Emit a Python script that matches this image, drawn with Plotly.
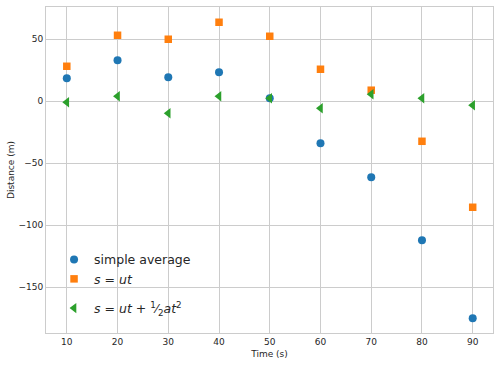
import plotly.graph_objects as go

time_s = [10, 20, 30, 40, 50, 60, 70, 80, 90]
simple_average = [18.5, 33.0, 19.4, 23.4, 2.4, -33.9, -61.3, -112.1, -175.0]
s_ut = [28.2, 53.2, 50.0, 63.7, 52.4, 25.8, 8.9, -32.3, -85.5]
s_ut_half_at2 = [-0.8, 4.0, -9.7, 4.0, 2.4, -5.6, 5.6, 2.4, -3.2]

x_ticks = [10, 20, 30, 40, 50, 60, 70, 80, 90]
y_ticks = [-150, -100, -50, 0, 50]

fig = go.Figure()
fig.add_trace(go.Scatter(x=time_s, y=simple_average, mode="markers", name="simple average",
                         legendgroup="a",
                         marker=dict(symbol="circle", size=8, color="#1f77b4")))
fig.add_trace(go.Scatter(x=time_s, y=s_ut, mode="markers", name="<i>s</i> = <i>ut</i>",
                         legendgroup="a",
                         marker=dict(symbol="square", size=7.5, color="#ff7f0e")))
fig.add_trace(go.Scatter(x=time_s, y=s_ut_half_at2, mode="markers",
                         legendgroup="b",
                         name="<i>s</i> = <i>ut</i> + <sup>1</sup>⁄<sub>2</sub><i>at</i><sup>2</sup>",
                         marker=dict(symbol="triangle-left", size=9, color="#2ca02c")))

axis_common = dict(showgrid=True, gridcolor="#cccccc", gridwidth=1, zeroline=False,
                   showline=True, linecolor="#cccccc", linewidth=1, mirror=True,
                   ticks="", automargin=False,
                   tickfont=dict(family="DejaVu Sans", size=9, color="#262626"))

fig.update_layout(
    width=500, height=366,
    margin=dict(l=46, r=7, t=7, b=33),
    paper_bgcolor="white", plot_bgcolor="white",
    font=dict(family="DejaVu Sans", color="#262626"),
    xaxis=dict(range=[5.9, 94.0], tickvals=x_ticks,
               title=dict(text="Time (s)", font=dict(family="DejaVu Sans", size=9, color="#262626"), standoff=4),
               **axis_common),
    yaxis=dict(range=[-186.9, 76.0], tickvals=y_ticks,
               title=dict(text="Distance (m)", font=dict(family="DejaVu Sans", size=9, color="#262626"), standoff=2),
               **axis_common),
    showlegend=True,
    legend=dict(x=0.018, y=0.27, xanchor="left", yanchor="top",
                bgcolor="rgba(0,0,0,0)", font=dict(size=12.5, color="#262626"),
                itemwidth=30, tracegroupgap=10, itemclick=False, itemdoubleclick=False),
)

fig.write_html("out.html", config={"displayModeBar": False},
               post_script="document.body.style.margin='0px';")
